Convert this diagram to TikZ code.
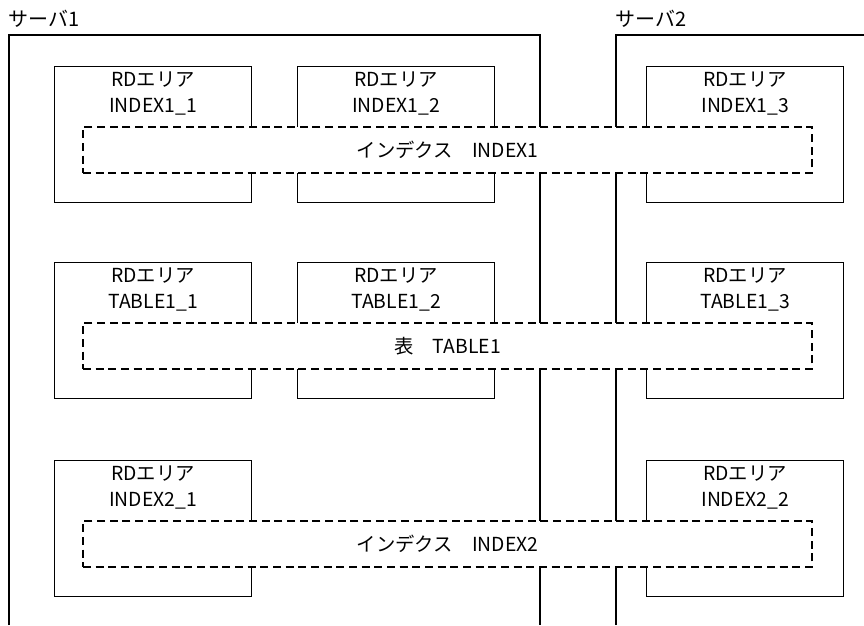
\documentclass[tikz,border=0pt]{standalone}
\usepackage{fontspec}
\setmainfont{Noto Sans CJK JP}
\usetikzlibrary{positioning}
\tikzset{
  srv/.style={line width=1pt},
  srvname/.style={anchor=west,inner sep=0pt,font=\fontsize{15}{17}\selectfont},
  rdarea/.style={draw,line width=1pt,anchor=north west,inner sep=0pt,
    minimum width=147.75pt,minimum height=102pt},
  rdlbl/.style={anchor=north,align=center,inner sep=0pt,yshift=-4pt,
    font=\fontsize{14.5}{19.5}\selectfont},
  dashbox/.style={draw,dash pattern=on 6pt off 3.5pt,line width=1pt,fill=white,
    minimum width=546.75pt,minimum height=34.5pt,inner sep=0pt,
    font=\fontsize{14.5}{16}\selectfont}
}
\begin{document}
\begin{tikzpicture}[x=0.75pt,y=-0.75pt]
\useasboundingbox (0,0) rectangle (864,625);
% servers
\draw[srv] (9,625) -- (9,35) -- (540,35) -- (540,625);
\draw[srv] (616,625) -- (616,35) -- (864,35);
\node[srvname] (srv1) at (8,19) {サーバ1};
\node[srvname] (srv2) at (615,19) {サーバ2};
% RD areas
\foreach \nm/\x/\y/\txt in {i11/54/66/INDEX1\_1, i12/297/66/INDEX1\_2, i13/646/66/INDEX1\_3,
    t11/54/262/TABLE1\_1, t12/297/262/TABLE1\_2, t13/646/262/TABLE1\_3,
    i21/54/460/INDEX2\_1, i22/646/460/INDEX2\_2}
  \node[rdarea,label={[rdlbl]north:RDエリア\\\txt}] (\nm) at (\x,\y) {};
% index and table over the areas
\node[dashbox] (ix1) at (447.5,150) {インデクス　INDEX1};
\node[dashbox] (tb1) at (447.5,346) {表　TABLE1};
\node[dashbox] (ix2) at (447.5,544) {インデクス　INDEX2};
\end{tikzpicture}
\end{document}
